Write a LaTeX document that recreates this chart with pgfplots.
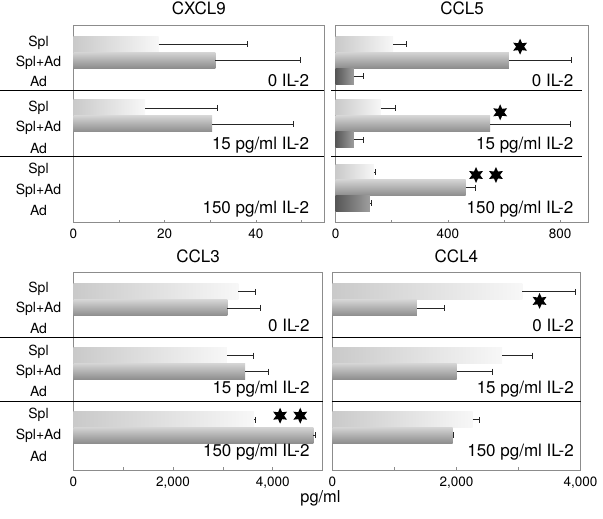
\documentclass[border=0pt]{standalone}
\usepackage{fontspec}
\setmainfont{TeX Gyre Heros}
\usepackage{pgfplots}
\pgfplotsset{compat=1.18}
\newcommand\fs[1]{\fontsize{#1}{#1}\selectfont}

\pgfdeclareplotmark{hexstar}{%
 \pgfpathmoveto{\pgfpointpolar{90}{\pgfplotmarksize}}%
 \pgfpathlineto{\pgfpointpolar{120}{0.5\pgfplotmarksize}}%
 \pgfpathlineto{\pgfpointpolar{150}{\pgfplotmarksize}}%
 \pgfpathlineto{\pgfpointpolar{180}{0.5\pgfplotmarksize}}%
 \pgfpathlineto{\pgfpointpolar{210}{\pgfplotmarksize}}%
 \pgfpathlineto{\pgfpointpolar{240}{0.5\pgfplotmarksize}}%
 \pgfpathlineto{\pgfpointpolar{270}{\pgfplotmarksize}}%
 \pgfpathlineto{\pgfpointpolar{300}{0.5\pgfplotmarksize}}%
 \pgfpathlineto{\pgfpointpolar{330}{\pgfplotmarksize}}%
 \pgfpathlineto{\pgfpointpolar{0}{0.5\pgfplotmarksize}}%
 \pgfpathlineto{\pgfpointpolar{30}{\pgfplotmarksize}}%
 \pgfpathlineto{\pgfpointpolar{60}{0.5\pgfplotmarksize}}%
 \pgfpathclose
 \pgfusepathqfill
}

\tikzset{itxt/.style={anchor=base east, font=\fs{17}}}

\pgfplotsset{
 panel/.style={scale only axis, height=197.7pt, ymin=25, ymax=222.7, y dir=reverse,
   ytick=\empty, tick align=inside, xtick pos=lower,
   axis line style={black!45, line width=0.8pt},
   major tick length=3pt, minor tick length=3pt,
   tick style={black!45, line width=0.7pt},
   xticklabel style={font=\fs{13.5}, inner sep=1pt, yshift=-5pt},
   /pgf/number format/assume math mode=true, /pgf/number format/1000 sep={,},
   scaled x ticks=false,
   title style={at={(0.5,1)}, anchor=base, yshift=4.5pt, font=\fs{17}},
   clip=false},
 leftlab/.style={ytick={#1}, yticklabels={Spl,Spl+Ad,Ad,Spl,Spl+Ad,Ad,Spl,Spl+Ad,Ad},
   ytick style={draw=none}, yticklabel style={anchor=center, xshift=-34.8pt, font=\fs{14}}},
 errb/.style={error bars/x dir=plus, error bars/x explicit, error bars/error mark=|,
   error bars/error bar style={draw=black!85, line width=0.7pt},
   error bars/error mark options={draw=black!85, line width=0.7pt, mark size=3pt}},
 spl/.style={xbar, bar width=16, bar shift=0pt, draw=none,
   left color=black!21, right color=black!3, errb},
 spad/.style={xbar, bar width=16, bar shift=0pt, draw=none,
   top color=black!17, bottom color=black!45, errb},
 ad/.style={xbar, bar width=16, bar shift=0pt, draw=none,
   left color=black!66, right color=black!38, errb},
 stars/.style={only marks, mark=hexstar, mark size=8pt, black},
}

\begin{document}
\begin{tikzpicture}
\useasboundingbox (0,0) rectangle (603pt,519pt);

% CXCL9
\begin{axis}[panel, at={(73.3pt,494pt)}, anchor=north west, width=251.2pt,
  xmin=0, xmax=55, xtick={0,20,40}, minor xtick={10,30,50}, title={CXCL9},
  leftlab={43.3,63.3,81.7,108.3,128.3,148.3,170,190.7,210.7}]
\addplot[spl] coordinates {(18.7,44.1) +- (19.4,0)};
\addplot[spl] coordinates {(15.7,108) +- (15.8,0)};
\addplot[spad] coordinates {(31.1,60.2) +- (18.7,0)};
\addplot[spad] coordinates {(30.4,123.9) +- (17.7,0)};
\node[itxt] at (axis cs:52.4,86.5) {0 IL-2};
\node[itxt] at (axis cs:52.4,149.5) {15 pg/ml IL-2};
\node[itxt] at (axis cs:52.4,214) {150 pg/ml IL-2};
\end{axis}

% CCL5
\begin{axis}[panel, at={(335.7pt,494pt)}, anchor=north west, width=252.6pt,
  xmin=0, xmax=900, xtick={0,400,800}, minor xtick={200,600}, title={CCL5}]
\addplot[spl] coordinates {(205,44.1) +- (45,0)};
\addplot[spl] coordinates {(161,108) +- (53,0)};
\addplot[spl] coordinates {(136,172.1) +- (4,0)};
\addplot[spad] coordinates {(617,60.2) +- (221,0)};
\addplot[spad] coordinates {(550,123.9) +- (285,0)};
\addplot[spad] coordinates {(463,187.6) +- (34,0)};
\addplot[ad] coordinates {(65,76.3) +- (33,0)};
\addplot[ad] coordinates {(65,139.8) +- (33,0)};
\addplot[ad] coordinates {(122,203.2) +- (4,0)};
\addplot[stars] coordinates {(657,46.7) (586,112.3) (500,175) (571,175)};
\node[itxt] at (axis cs:859,86.5) {0 IL-2};
\node[itxt] at (axis cs:859,149.5) {15 pg/ml IL-2};
\node[itxt] at (axis cs:859,214) {150 pg/ml IL-2};
\end{axis}

% CCL3
\begin{axis}[panel, at={(73.3pt,246.3pt)}, anchor=north west, width=249.4pt,
  xmin=0, xmax=5000, xtick={0,2000,4000}, minor xtick={1000,3000}, title={CCL3},
  leftlab={40.8,60.8,80.8,104.2,124.2,144.2,167.5,188.2,209.2}]
\addplot[spl] coordinates {(3310,44.1) +- (335,0)};
\addplot[spl] coordinates {(3077,108) +- (534,0)};
\addplot[spl] coordinates {(3625,172.1) +- (25,0)};
\addplot[spad] coordinates {(3089,60.2) +- (656,0)};
\addplot[spad] coordinates {(3444,123.9) +- (468,0)};
\addplot[spad] coordinates {(4814,187.6) +- (36,0)};
\addplot[stars] coordinates {(4146,168) (4550,168)};
\node[itxt] at (axis cs:4808,84) {0 IL-2};
\node[itxt] at (axis cs:4808,146) {15 pg/ml IL-2};
\node[itxt] at (axis cs:4808,208.5) {150 pg/ml IL-2};
\end{axis}

% CCL4
\begin{axis}[panel, at={(332.3pt,246.3pt)}, anchor=north west, width=248.3pt,
  xmin=0, xmax=4000, xtick={0,2000,4000}, minor xtick={1000,3000}, title={CCL4}]
\addplot[spl] coordinates {(3060,44.1) +- (861,0)};
\addplot[spl] coordinates {(2737,108) +- (484,0)};
\addplot[spl] coordinates {(2262,172.1) +- (108,0)};
\addplot[spad] coordinates {(1363,60.2) +- (447,0)};
\addplot[spad] coordinates {(2003,123.9) +- (582,0)};
\addplot[spad] coordinates {(1939,187.6) +- (11,0)};
\addplot[stars] coordinates {(3339,53.2)};
\node[itxt] at (axis cs:3948,84) {0 IL-2};
\node[itxt] at (axis cs:3948,146) {15 pg/ml IL-2};
\node[itxt] at (axis cs:3948,208.5) {150 pg/ml IL-2};
\end{axis}

% separators
\draw[line width=0.9pt] (0pt,428.3pt) -- (323.5pt,428.3pt);
\draw[line width=0.9pt] (0pt,363pt) -- (323.5pt,363pt);
\draw[line width=0.9pt] (331pt,428.3pt) -- (582pt,428.3pt);
\draw[line width=0.9pt] (331pt,363pt) -- (582pt,363pt);
\draw[line width=0.9pt] (0pt,181.7pt) -- (322.5pt,181.7pt);
\draw[line width=0.9pt] (0pt,118pt) -- (322.5pt,118pt);
\draw[line width=0.9pt] (331.7pt,181.7pt) -- (581pt,181.7pt);
\draw[line width=0.9pt] (331.7pt,118pt) -- (581pt,118pt);

\node[font=\fs{16.4}, anchor=base, inner sep=0pt] at (320.5pt,16.5pt) {pg/ml};
\end{tikzpicture}
\end{document}
